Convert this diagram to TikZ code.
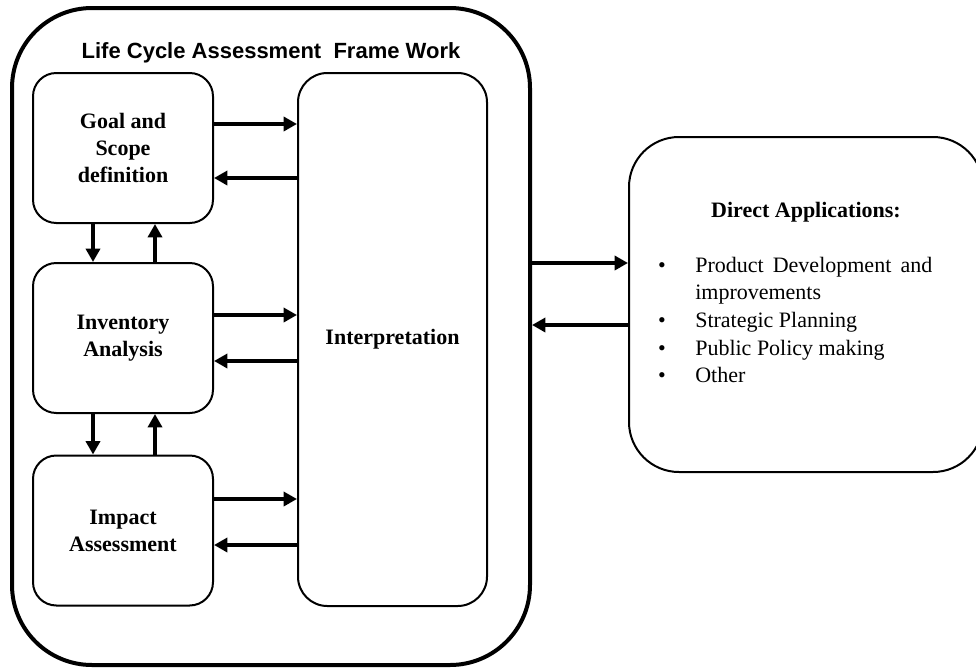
\documentclass[tikz,border=0pt]{standalone}
\usepackage{fontspec}
\setmainfont{Liberation Serif}
\newfontfamily\headfont{Liberation Sans}
\usetikzlibrary{arrows.meta}
\tikzset{
	stage/.style={draw, line width=1.5pt, rounded corners=17.5pt, minimum width=135pt, minimum height=112.5pt, align=center, font=\fontsize{16.5}{20.25}\selectfont\bfseries},
	flow/.style={line width=3pt, -{Triangle[length=10pt,width=10.5pt]}},
	listtext/.style={font=\fontsize{16.5}{20.25}\selectfont},
}
\begin{document}
\begin{tikzpicture}[x=.75pt, y=-.75pt]
	\useasboundingbox (0,0) rectangle (976,668);
	%framework
	\node[draw, line width=3pt, rounded corners=60pt, minimum width=388.5pt, minimum height=492.75pt] (frame) at (271,336.5) {};
	\node[anchor=base, font=\headfont\fontsize{16.5}{20}\selectfont\bfseries] (title) at (271,58) {Life Cycle Assessment\ \ Frame Work};
	\node[stage] (goal) at (123,148)   {Goal and\\Scope\\definition};
	\node[stage] (inv)  at (123,338)   {Inventory\\Analysis};
	\node[stage] (imp)  at (123,530.5) {Impact\\Assessment};
	\node[stage, rounded corners=22pt, minimum width=141.75pt, minimum height=399.75pt] (interp) at (392.5,339.5) {Interpretation};
	%applications
	\node[draw, line width=1.5pt, rounded corners=37.5pt, minimum width=265.5pt, minimum height=251.25pt] (apps) at (806,304.5) {};
	\node[anchor=base, font=\fontsize{16.5}{20}\selectfont\bfseries] (appshead) at (806,217) {Direct Applications:};
	\node[anchor=base, listtext] (dot1) at (662,272) {\textbullet};
	\node[anchor=base, listtext] (dot2) at (662,327) {\textbullet};
	\node[anchor=base, listtext] (dot3) at (662,355) {\textbullet};
	\node[anchor=base, listtext] (dot4) at (662,382) {\textbullet};
	\node[anchor=base west, listtext, inner xsep=0pt] (item1)  at (695,272) {\makebox[177.75pt][s]{Product Development and}};
	\node[anchor=base west, listtext, inner xsep=0pt] (item1b) at (695,299) {improvements};
	\node[anchor=base west, listtext, inner xsep=0pt] (item2)  at (695,327) {Strategic Planning};
	\node[anchor=base west, listtext, inner xsep=0pt] (item3)  at (695,355) {Public Policy making};
	\node[anchor=base west, listtext, inner xsep=0pt] (item4)  at (695,382) {Other};
	%arrows
	\draw[flow] (goal.east |- 0,124)   -- (interp.west |- 0,124);
	\draw[flow] (interp.west |- 0,178) -- (goal.east |- 0,178);
	\draw[flow] (inv.east |- 0,315)    -- (interp.west |- 0,315);
	\draw[flow] (interp.west |- 0,361) -- (inv.east |- 0,361);
	\draw[flow] (imp.east |- 0,499)    -- (interp.west |- 0,499);
	\draw[flow] (interp.west |- 0,545) -- (imp.east |- 0,545);
	\draw[flow] (goal.south -| 93,0)   -- (inv.north -| 93,0);
	\draw[flow] (inv.north -| 155,0)   -- (goal.south -| 155,0);
	\draw[flow] (inv.south -| 93,0)    -- (imp.north -| 93,0);
	\draw[flow] (imp.north -| 155,0)   -- (inv.south -| 155,0);
	\draw[flow] (frame.east |- 0,263)  -- (apps.west |- 0,263);
	\draw[flow] (apps.west |- 0,325)   -- (frame.east |- 0,325);
\end{tikzpicture}
\end{document}
